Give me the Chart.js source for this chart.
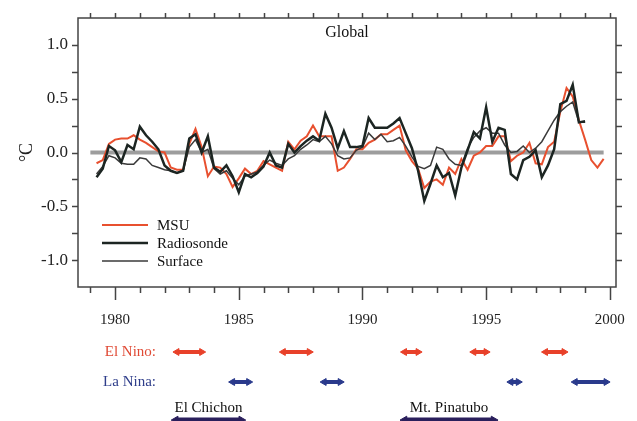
<!DOCTYPE html>
<html lang="en">
<head>
<meta charset="UTF-8">
<title>Global temperature anomalies</title>
<script src="https://cdn.jsdelivr.net/npm/chart.js"></script>
<style>
  body { margin: 0; background: #fff; }
  canvas { display: block; }
</style>
</head>
<body>
<canvas id="main" width="637" height="340"></canvas>
<canvas id="events" width="637" height="81"></canvas>
<script>
// quarterly anomalies (deg C), first value at 1979.25
const firstQuarter = 1979.25;
const msu = [
  -0.10, -0.07, 0.08, 0.12, 0.13, 0.13, 0.16, 0.12, 0.09, 0.05,
  0.01, 0.00, -0.14, -0.16, -0.16, 0.08, 0.22, 0.05, -0.22, -0.13,
  -0.14, -0.20, -0.32, -0.24, -0.15, -0.20, -0.17, -0.08, -0.11, -0.14,
  -0.17, 0.10, 0.03, 0.11, 0.15, 0.25, 0.15, 0.15, 0.15, -0.17,
  -0.14, -0.06, 0.03, 0.03, 0.09, 0.12, 0.17, 0.17, 0.21, 0.25,
  0.02, -0.08, -0.15, -0.33, -0.27, -0.25, -0.30, -0.14, -0.20, -0.06,
  -0.16, -0.03, 0.00, 0.06, 0.06, 0.15, 0.15, -0.08, -0.03, 0.00,
  0.09, -0.10, -0.11, 0.05, 0.10, 0.38, 0.60, 0.52, 0.30, 0.12,
  -0.07, -0.14, -0.06
];
const radiosonde = [
  -0.23, -0.15, 0.06, 0.02, -0.09, 0.07, 0.03, 0.24, 0.16, 0.10,
  0.03, -0.12, -0.17, -0.19, -0.17, 0.13, 0.17, 0.00, 0.15, -0.14,
  -0.18, -0.12, -0.22, -0.37, -0.20, -0.23, -0.19, -0.13, 0.00, -0.12,
  -0.14, 0.08, 0.00, 0.06, 0.11, 0.15, 0.11, 0.36, 0.23, 0.04,
  0.20, 0.05, 0.05, 0.06, 0.32, 0.23, 0.23, 0.23, 0.27, 0.32,
  0.18, 0.04, -0.17, -0.45, -0.29, -0.12, -0.23, -0.19, -0.40, -0.14,
  0.02, 0.19, 0.13, 0.42, 0.10, 0.23, 0.21, -0.20, -0.25, -0.07,
  -0.04, 0.02, -0.23, -0.12, 0.03, 0.45, 0.48, 0.63, 0.28, 0.29
];
const surface = [
  -0.20, -0.13, -0.03, -0.05, -0.10, -0.11, -0.11, -0.05, -0.06, -0.12,
  -0.14, -0.16, -0.17, -0.19, -0.17, 0.05, 0.12, 0.00, 0.03, -0.15,
  -0.20, -0.17, -0.24, -0.30, -0.22, -0.20, -0.18, -0.12, -0.07, -0.10,
  -0.12, -0.06, -0.03, 0.03, 0.07, 0.12, 0.10, 0.15, 0.08, -0.03,
  -0.06, -0.05, 0.02, 0.05, 0.18, 0.12, 0.17, 0.10, 0.11, 0.14,
  0.06, -0.04, -0.13, -0.15, -0.12, 0.05, 0.03, -0.06, -0.11, -0.12,
  0.04, 0.14, 0.20, 0.23, 0.18, 0.18, 0.07, 0.00, 0.01, 0.06,
  0.00, 0.04, 0.10, 0.20, 0.30, 0.38, 0.43, 0.47, 0.28, 0.28
];
const zeroLineYears = [1979.0, 1999.75];

const yearLabels = [1980, 1985, 1990, 1995, 2000];
const tempLabels = [-1.0, -0.5, 0.0, 0.5, 1.0];

// ENSO events and eruptions (start / end year)
const elNinoStart = [1982.5, 1986.8, 1991.7, 1994.5, 1997.4];
const elNinoEnd   = [1983.5, 1987.85, 1992.25, 1995.0, 1998.15];
const laNinaStart = [1984.75, 1988.45, 1996.0, 1998.6];
const laNinaEnd   = [1985.4, 1989.1, 1996.3, 1999.85];
const volcanoNames = ['El Chichon', 'Mt. Pinatubo'];
const volcanoStart = [1982.45, 1991.7];
const volcanoEnd   = [1985.1, 1995.3];

const xMin = 1978.5, xMax = 2000.25;
const serif = '"Liberation Serif", "Times New Roman", serif';
const axisColor = '#444';
const textColor = '#222';

const toPoints = arr => arr.map((v, i) => ({ x: firstQuarter + i * 0.25, y: v }));

// frame, outward ticks, title and legend of the main panel
const framePlugin = {
  id: 'frame',
  afterDraw(chart) {
    const { ctx, chartArea: a, scales: { x, y } } = chart;
    ctx.save();
    ctx.strokeStyle = axisColor;
    ctx.lineWidth = 1.5;
    ctx.strokeRect(a.left, a.top, a.right - a.left, a.bottom - a.top);
    ctx.beginPath();
    for (let yr = 1979; yr <= 2000; yr++) {
      const px = Math.round(x.getPixelForValue(yr)) + 0.5;
      ctx.moveTo(px, a.bottom);
      ctx.lineTo(px, a.bottom + (yr % 5 === 0 ? 13 : 6));
      ctx.moveTo(px, a.top);
      ctx.lineTo(px, a.top - 5);
    }
    for (let v = -1; v <= 1.001; v += 0.25) {
      const py = Math.round(y.getPixelForValue(v)) + 0.5;
      ctx.moveTo(a.left, py);
      ctx.lineTo(a.left - 6, py);
      ctx.moveTo(a.right, py);
      ctx.lineTo(a.right + 6, py);
    }
    ctx.stroke();

    ctx.fillStyle = '#111';
    ctx.font = '16px ' + serif;
    ctx.textAlign = 'center';
    ctx.textBaseline = 'middle';
    ctx.fillText('Global', (a.left + a.right) / 2, a.top + 15);

    // legend, lower left inside the plot
    const items = chart.data.datasets.filter(d => d.label);
    ctx.textAlign = 'left';
    ctx.font = '15px ' + serif;
    items.forEach((d, i) => {
      const ly = a.top + 207 + i * 18;
      ctx.strokeStyle = d.borderColor;
      ctx.lineWidth = d.borderWidth;
      ctx.beginPath();
      ctx.moveTo(a.left + 24, ly);
      ctx.lineTo(a.left + 70, ly);
      ctx.stroke();
      ctx.fillStyle = '#111';
      ctx.fillText(d.label, a.left + 79, ly + 1);
    });
    ctx.restore();
  }
};

new Chart(document.getElementById('main'), {
  type: 'line',
  data: {
    datasets: [
      { label: 'MSU', data: toPoints(msu), borderColor: '#e8502f', borderWidth: 2, order: 3 },
      { label: 'Radiosonde', data: toPoints(radiosonde), borderColor: '#1c2522', borderWidth: 2.5, order: 1 },
      { label: 'Surface', data: toPoints(surface), borderColor: '#3a3a3a', borderWidth: 1.5, order: 2 },
      { data: zeroLineYears.map(yr => ({ x: yr, y: 0 })), borderColor: '#9d9d9d', borderWidth: 4, order: 10 }
    ]
  },
  options: {
    responsive: false,
    animation: false,
    devicePixelRatio: 1,
    layout: { autoPadding: false, padding: { top: 18, right: 21, left: 0, bottom: 0 } },
    elements: { point: { radius: 0 }, line: { tension: 0, borderCapStyle: 'butt' } },
    scales: {
      x: {
        type: 'linear', min: xMin, max: xMax,
        grid: { display: false, drawTicks: false },
        border: { display: false },
        afterBuildTicks: s => { s.ticks = yearLabels.map(v => ({ value: v })); },
        afterFit: s => { s.height = 53; s.paddingLeft = 0; s.paddingRight = 0; },
        ticks: { padding: 24, maxRotation: 0, autoSkip: false, color: textColor,
                 font: { family: serif, size: 15 }, callback: v => String(v) }
      },
      y: {
        min: -1.25, max: 1.25,
        grid: { display: false, drawTicks: false },
        border: { display: false },
        afterBuildTicks: s => { s.ticks = tempLabels.map(v => ({ value: v })); },
        afterFit: s => { s.width = 78; s.paddingTop = 0; s.paddingBottom = 0; },
        ticks: { padding: 10, color: textColor, font: { family: serif, size: 17 },
                 callback: v => v.toFixed(1) },
        title: { display: true, text: '°C', color: textColor,
                 font: { family: serif, size: 18 }, padding: { top: 16, bottom: 0 } }
      }
    },
    plugins: { legend: { display: false }, tooltip: { enabled: false } }
  },
  plugins: [framePlugin]
});

// ---- event rows under the axis ----
const rows = { elNino: 3, laNina: 2, volcano: 0.73 };

function arrowPoints(starts, ends, row) {
  const pts = [];
  starts.forEach((s, i) => {
    pts.push({ x: s, y: row }, { x: ends[i], y: row }, { x: ends[i], y: null });
  });
  return pts;
}

function arrowSet(starts, ends, row, color, width, head) {
  return {
    data: arrowPoints(starts, ends, row),
    borderColor: color, borderWidth: width,
    pointStyle: 'triangle', pointRadius: head,
    pointBackgroundColor: color, pointBorderColor: color, pointBorderWidth: 1,
    pointRotation: c => (c.index % 3 === 1 ? 90 : -90)
  };
}

const eventLabels = {
  id: 'eventLabels',
  afterDraw(chart) {
    const { ctx, scales: { x, y } } = chart;
    ctx.save();
    ctx.font = '15px ' + serif;
    ctx.textBaseline = 'middle';
    ctx.textAlign = 'right';
    ctx.fillStyle = '#e04a35';
    ctx.fillText('El Nino:', 156, y.getPixelForValue(rows.elNino));
    ctx.fillStyle = '#2e3d8a';
    ctx.fillText('La Nina:', 156, y.getPixelForValue(rows.laNina));
    ctx.textAlign = 'center';
    ctx.fillStyle = '#111';
    volcanoNames.forEach((n, i) => {
      const cx = x.getPixelForValue((volcanoStart[i] + volcanoEnd[i]) / 2);
      ctx.fillText(n, cx, y.getPixelForValue(rows.volcano) - 12);
    });
    ctx.restore();
  }
};

new Chart(document.getElementById('events'), {
  type: 'line',
  data: {
    datasets: [
      arrowSet(elNinoStart, elNinoEnd, rows.elNino, '#e8412a', 4, 4),
      arrowSet(laNinaStart, laNinaEnd, rows.laNina, '#2a3a8c', 4, 4),
      arrowSet(volcanoStart, volcanoEnd, rows.volcano, '#2a1f5c', 5, 4.5)
    ]
  },
  options: {
    responsive: false,
    animation: false,
    devicePixelRatio: 1,
    layout: { autoPadding: false, padding: { left: 78, right: 21, top: 0, bottom: 0 } },
    elements: { line: { tension: 0, borderCapStyle: 'butt' } },
    scales: {
      x: { type: 'linear', display: false, min: xMin, max: xMax },
      y: { type: 'linear', display: false, min: 0.7, max: 3.4 }
    },
    plugins: { legend: { display: false }, tooltip: { enabled: false } }
  },
  plugins: [eventLabels]
});
</script>
</body>
</html>
